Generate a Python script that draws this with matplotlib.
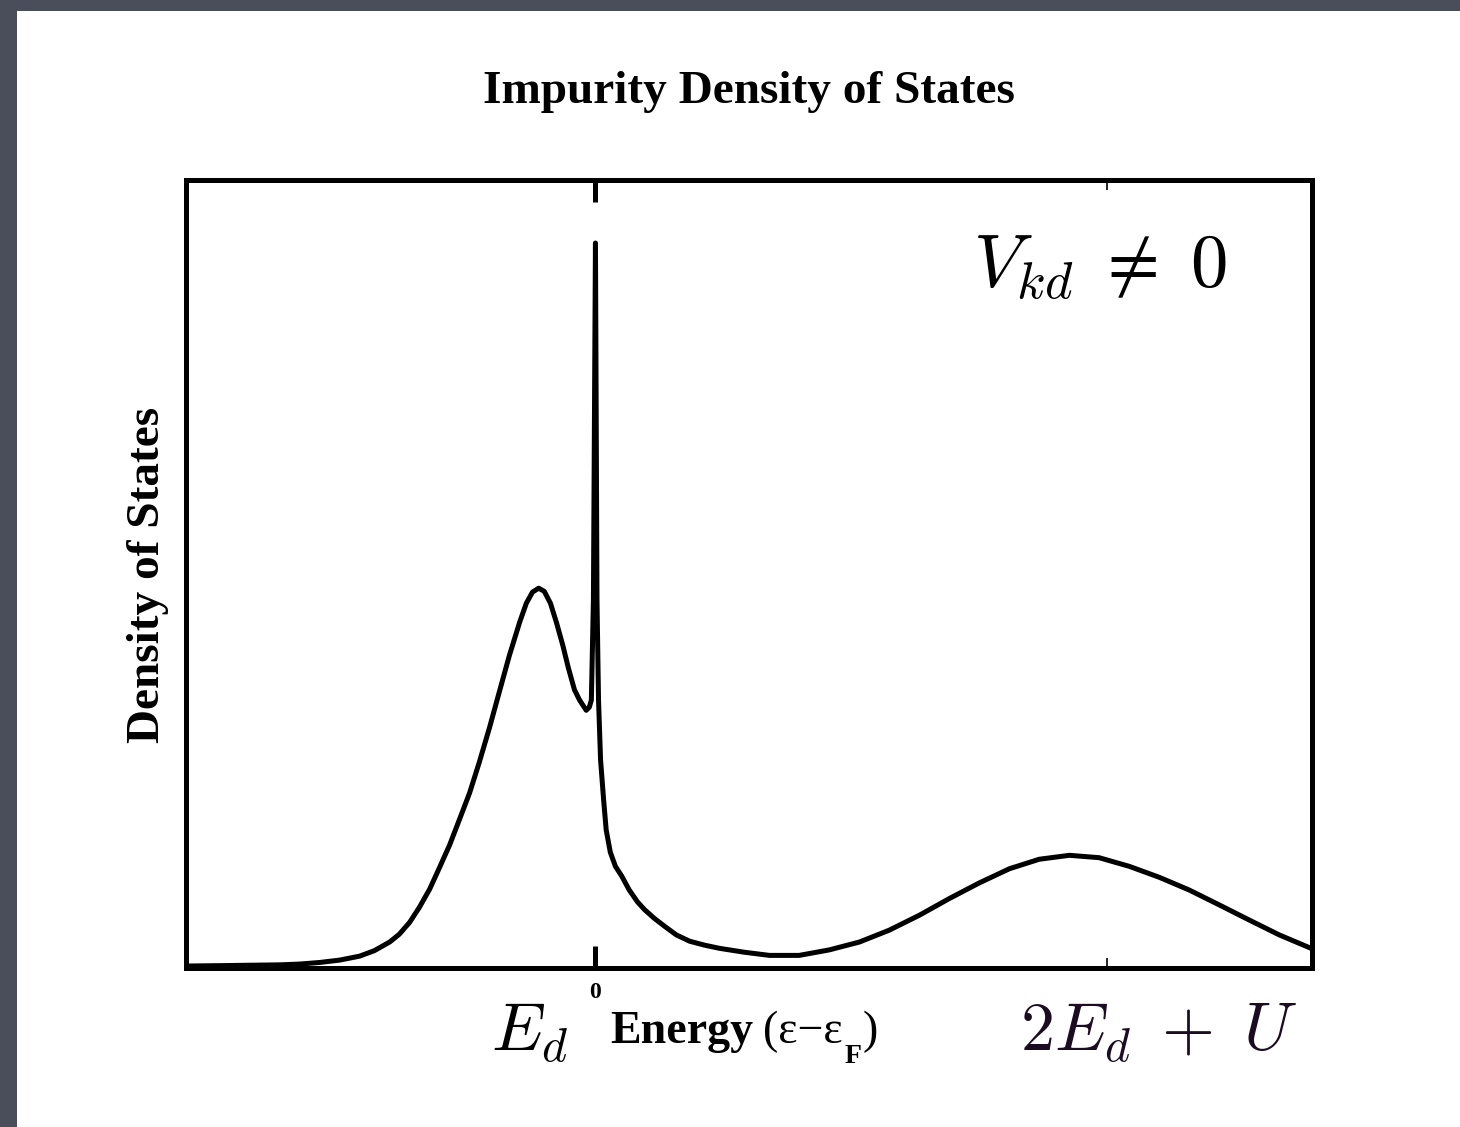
import matplotlib
matplotlib.use("Agg")
import matplotlib.pyplot as plt
from matplotlib.patches import Rectangle
import numpy as np

plt.rcParams['mathtext.fontset'] = 'cm'
serif = ['Liberation Serif', 'DejaVu Serif']

# impurity spectral function: Hubbard peak at E_d, Kondo resonance at 0, upper peak at 2E_d+U
energy = [-0.801, -0.734, -0.676, -0.617, -0.578, -0.539, -0.500, -0.461,
          -0.432, -0.402, -0.383, -0.363, -0.344, -0.324, -0.305, -0.285,
          -0.266, -0.246, -0.227, -0.207, -0.188, -0.168, -0.148, -0.135,
          -0.123, -0.111, -0.100, -0.088, -0.076, -0.064, -0.053, -0.041,
          -0.031, -0.023, -0.018, -0.012, -0.008, -0.004, 0.000, 0.003,
          0.006, 0.010, 0.016, 0.021, 0.029, 0.039, 0.051, 0.066,
          0.082, 0.096, 0.115, 0.135, 0.158, 0.184, 0.213, 0.242,
          0.291, 0.340, 0.398, 0.457, 0.516, 0.574, 0.633, 0.691,
          0.750, 0.809, 0.867, 0.926, 0.984, 1.043, 1.102, 1.160,
          1.219, 1.277, 1.336, 1.398]
dos = [0.0025, 0.003, 0.0035, 0.004, 0.005, 0.007, 0.010, 0.015,
       0.022, 0.033, 0.043, 0.058, 0.077, 0.100, 0.127, 0.156,
       0.188, 0.222, 0.261, 0.305, 0.350, 0.397, 0.439, 0.463,
       0.477, 0.482, 0.478, 0.463, 0.438, 0.410, 0.381, 0.353,
       0.340, 0.332, 0.327, 0.331, 0.340, 0.467, 0.920, 0.467,
       0.340, 0.264, 0.213, 0.175, 0.147, 0.129, 0.117, 0.099,
       0.084, 0.074, 0.063, 0.053, 0.042, 0.034, 0.029, 0.025,
       0.020, 0.016, 0.016, 0.023, 0.033, 0.048, 0.067, 0.088,
       0.108, 0.126, 0.138, 0.143, 0.140, 0.129, 0.115, 0.099,
       0.080, 0.061, 0.042, 0.025]

major_ticks = [0.0]
major_labels = ['0']
minor_ticks = [1.0]

W, H = 1460, 1127
fig = plt.figure(figsize=(W / 100, H / 100), dpi=100, facecolor='#4a4e5b')
fig.patches.append(Rectangle((17 / W, 0), 1 - 17 / W, 1 - 11 / H,
                             transform=fig.transFigure, facecolor='white',
                             edgecolor='none', zorder=-5))

ax = fig.add_axes([186 / W, 1 - 968 / H, 1126 / W, 788 / H])
ax.plot(energy, dos, color='black', lw=3.6, solid_joinstyle='round')
ax.set_xlim(-0.8, 1.4)
ax.set_ylim(0, 1)
for s in ax.spines.values():
    s.set_linewidth(3.6)

ax.set_xticks(major_ticks)
ax.set_xticklabels(major_labels, fontfamily=serif, fontweight='bold', fontsize=17)
ax.set_xticks(minor_ticks, minor=True)
ax.tick_params(axis='x', which='major', direction='in', top=True, length=16,
               width=3.6, pad=10)
ax.tick_params(axis='x', which='minor', direction='in', top=True, length=7,
               width=1.2)
ax.set_yticks([])

def fx(px):
    return px / W

def fy(py):
    return 1 - py / H

fig.text(fx(749), fy(103), 'Impurity Density of States', ha='center',
         va='baseline', fontfamily=serif, fontweight='bold', fontsize=34)
fig.text(fx(148), fy(575), 'Density of States', rotation=90, ha='center',
         va='center', fontfamily=serif, fontweight='bold', fontsize=34)

# x axis label in pieces: bold word, plain bracket, bold subscript
renderer = fig.canvas.get_renderer()
t = fig.text(fx(610), fy(1043), 'Energy', ha='left', va='baseline',
             fontfamily=serif, fontweight='bold', fontsize=33)
x_end = t.get_window_extent(renderer).x1
t = fig.text((x_end + 10) / W, fy(1043), '(ε−ε', ha='left', va='baseline',
             fontfamily=serif, fontsize=33)
x_end = t.get_window_extent(renderer).x1
t = fig.text((x_end + 2) / W, fy(1063), 'F', ha='left', va='baseline',
             fontfamily=serif, fontweight='bold', fontsize=20)
x_end = t.get_window_extent(renderer).x1
fig.text((x_end + 1) / W, fy(1043), ')', ha='left', va='baseline',
         fontfamily=serif, fontsize=33)

fig.text(fx(491), fy(1050), r'$E_d$', ha='left', va='baseline', fontsize=49)
fig.text(fx(1020), fy(1050), r'$2E_d\;+\;U$', ha='left', va='baseline',
         fontsize=49, color='#1c0c22')
fig.text(fx(973), fy(287), r'$V_{kd}\;\neq\;0$', ha='left', va='baseline',
         fontsize=54)

fig.savefig('out.png', dpi=100, facecolor=fig.get_facecolor())
